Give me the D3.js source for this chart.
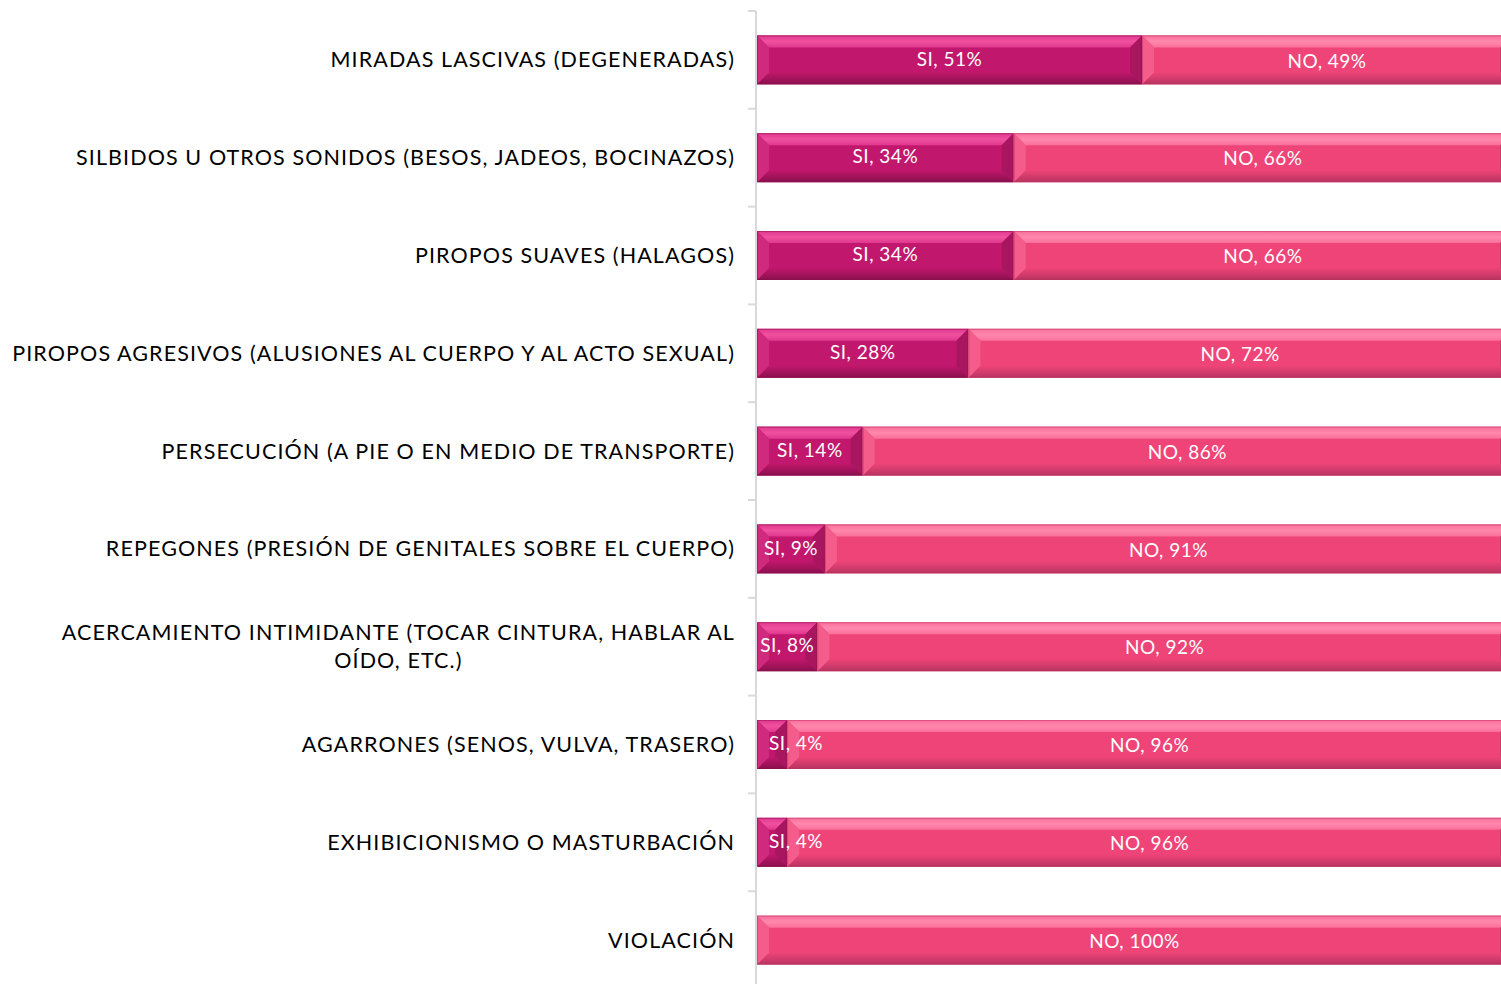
<!DOCTYPE html>
<html>
<head>
<meta charset="utf-8">
<script src="https://cdn.jsdelivr.net/npm/d3@7"></script>
<style>
  body { margin: 0; background: #fff; }
  svg { display: block; font-family: Lato, "Open Sans", sans-serif; }
</style>
</head>
<body>
<svg id="chart" width="1501" height="984"></svg>
<script>
// data
const categories = [
  "MIRADAS LASCIVAS (DEGENERADAS)",
  "SILBIDOS U OTROS SONIDOS (BESOS, JADEOS, BOCINAZOS)",
  "PIROPOS SUAVES (HALAGOS)",
  "PIROPOS AGRESIVOS (ALUSIONES AL CUERPO Y AL ACTO SEXUAL)",
  "PERSECUCIÓN (A PIE O EN MEDIO DE TRANSPORTE)",
  "REPEGONES (PRESIÓN DE GENITALES SOBRE EL CUERPO)",
  "ACERCAMIENTO INTIMIDANTE (TOCAR CINTURA, HABLAR AL|OÍDO, ETC.)",
  "AGARRONES (SENOS, VULVA, TRASERO)",
  "EXHIBICIONISMO O MASTURBACIÓN",
  "VIOLACIÓN"
];
const siValues = [51, 34, 34, 28, 14, 9, 8, 4, 4, 0];
const noValues = [49, 66, 66, 72, 86, 91, 92, 96, 96, 100];
const seriesNames = ["SI", "NO"];

const svg = d3.select("#chart");
const x0 = 757, x1 = 1512;
const x = d3.scaleLinear().domain([0, 100]).range([x0, x1]);
const y = d3.scaleBand().domain(d3.range(categories.length)).range([11, 989]).paddingInner(0.5).paddingOuter(0.25);

const colors = {
  SI: { main: "#c1176c", top: "#e0388f", topHi: "#f0519f", bottom: "#8a104d", left: "#d02a7e", right: "#a8165f" },
  NO: { main: "#ee4478", top: "#f96f9b", topHi: "#ff88ad", bottom: "#b83461", left: "#f45d8b", right: "#d03e6d" }
};

// gradients for the top bevel
const defs = svg.append("defs");
Object.keys(colors).forEach(k => {
  const g = defs.append("linearGradient").attr("id", "top" + k).attr("x1", 0).attr("y1", 0).attr("x2", 0).attr("y2", 1);
  g.append("stop").attr("offset", "0%").attr("stop-color", colors[k].top);
  g.append("stop").attr("offset", "50%").attr("stop-color", colors[k].topHi);
  g.append("stop").attr("offset", "100%").attr("stop-color", colors[k].top);
  const b = defs.append("linearGradient").attr("id", "bot" + k).attr("x1", 0).attr("y1", 0).attr("x2", 0).attr("y2", 1);
  b.append("stop").attr("offset", "0%").attr("stop-color", colors[k].main);
  b.append("stop").attr("offset", "100%").attr("stop-color", colors[k].bottom);
});

const clip = defs.append("clipPath").attr("id", "plotclip");
clip.append("rect").attr("x", 0).attr("y", 0).attr("width", 1501).attr("height", 984);

// axis line and ticks
const axisColor = "#d9d9d9";
svg.append("line").attr("x1", x0 - 1).attr("x2", x0 - 1).attr("y1", 11).attr("y2", 984)
  .attr("stroke", axisColor).attr("stroke-width", 2);
const bounds = d3.range(categories.length + 1).map(i => 11 + i * y.step());
svg.selectAll(".tick").data(bounds).enter().append("line")
  .attr("x1", x0 - 9).attr("x2", x0 - 1).attr("y1", d => d).attr("y2", d => d)
  .attr("stroke", axisColor).attr("stroke-width", 2);

// category labels
categories.forEach((c, i) => {
  const lines = c.split("|");
  const cy = y(i) + y.bandwidth() / 2;
  const lh = 28;
  const t = svg.append("text").attr("font-size", 21.5).attr("letter-spacing", 1.1).attr("fill", "#000");
  lines.forEach((l, j) => {
    t.append("tspan").attr("y", cy + (j - (lines.length - 1) / 2) * lh).attr("dy", "0.35em").text(l);
  });
  // right align block, center lines within it
  const widths = [];
  t.selectAll("tspan").each(function () { widths.push(this.getComputedTextLength()); });
  const maxW = d3.max(widths);
  t.selectAll("tspan").attr("x", (d, j) => 735 - maxW + (maxW - widths[j]) / 2);
});

// bevelled bar segment
function bevelBar(g, k, xa, xb, ya, yb) {
  const c = colors[k];
  const w = xb - xa, h = yb - ya;
  const b = Math.min(12, w / 2, h / 2);
  g.append("rect").attr("x", xa).attr("y", ya).attr("width", w).attr("height", h).attr("fill", c.main);
  g.append("polygon").attr("points", [[xa, ya], [xb, ya], [xb - b, ya + b], [xa + b, ya + b]].join(" "))
    .attr("fill", `url(#top${k})`);
  g.append("polygon").attr("points", [[xa, yb], [xb, yb], [xb - b, yb - b], [xa + b, yb - b]].join(" "))
    .attr("fill", `url(#bot${k})`);
  g.append("polygon").attr("points", [[xa, ya], [xa + b, ya + b], [xa + b, yb - b], [xa, yb]].join(" "))
    .attr("fill", c.left);
  g.append("polygon").attr("points", [[xb, ya], [xb - b, ya + b], [xb - b, yb - b], [xb, yb]].join(" "))
    .attr("fill", c.right);
  g.append("rect").attr("x", xa + 0.5).attr("y", ya + 0.5).attr("width", w - 1).attr("height", h - 1)
    .attr("fill", "none").attr("stroke", c.bottom).attr("stroke-opacity", 0.5);
}

const plot = svg.append("g").attr("clip-path", "url(#plotclip)");
const labels = svg.append("g");

categories.forEach((c, i) => {
  const ya = y(i), yb = y(i) + y.bandwidth();
  const vals = [siValues[i], noValues[i]];
  let acc = 0;
  vals.forEach((v, s) => {
    if (v <= 0) return;
    const k = seriesNames[s];
    const xa = x(acc), xb = x(acc + v);
    bevelBar(plot, k, xa, xb, ya, yb);
    const txt = labels.append("text")
      .attr("y", (ya + yb) / 2 + (s === 0 ? -1 : 1)).attr("dy", "0.35em")
      .attr("text-anchor", "middle").attr("font-size", 19).attr("letter-spacing", 0.5).attr("fill", "#fff")
      .text(`${k}, ${v}%`);
    const tw = txt.node().getComputedTextLength();
    let cx = (xa + xb) / 2;
    if (s === 0 && tw > xb - xa) cx = x0 + 12 + tw / 2;
    txt.attr("x", cx);
    acc += v;
  });
});
</script>
</body>
</html>
